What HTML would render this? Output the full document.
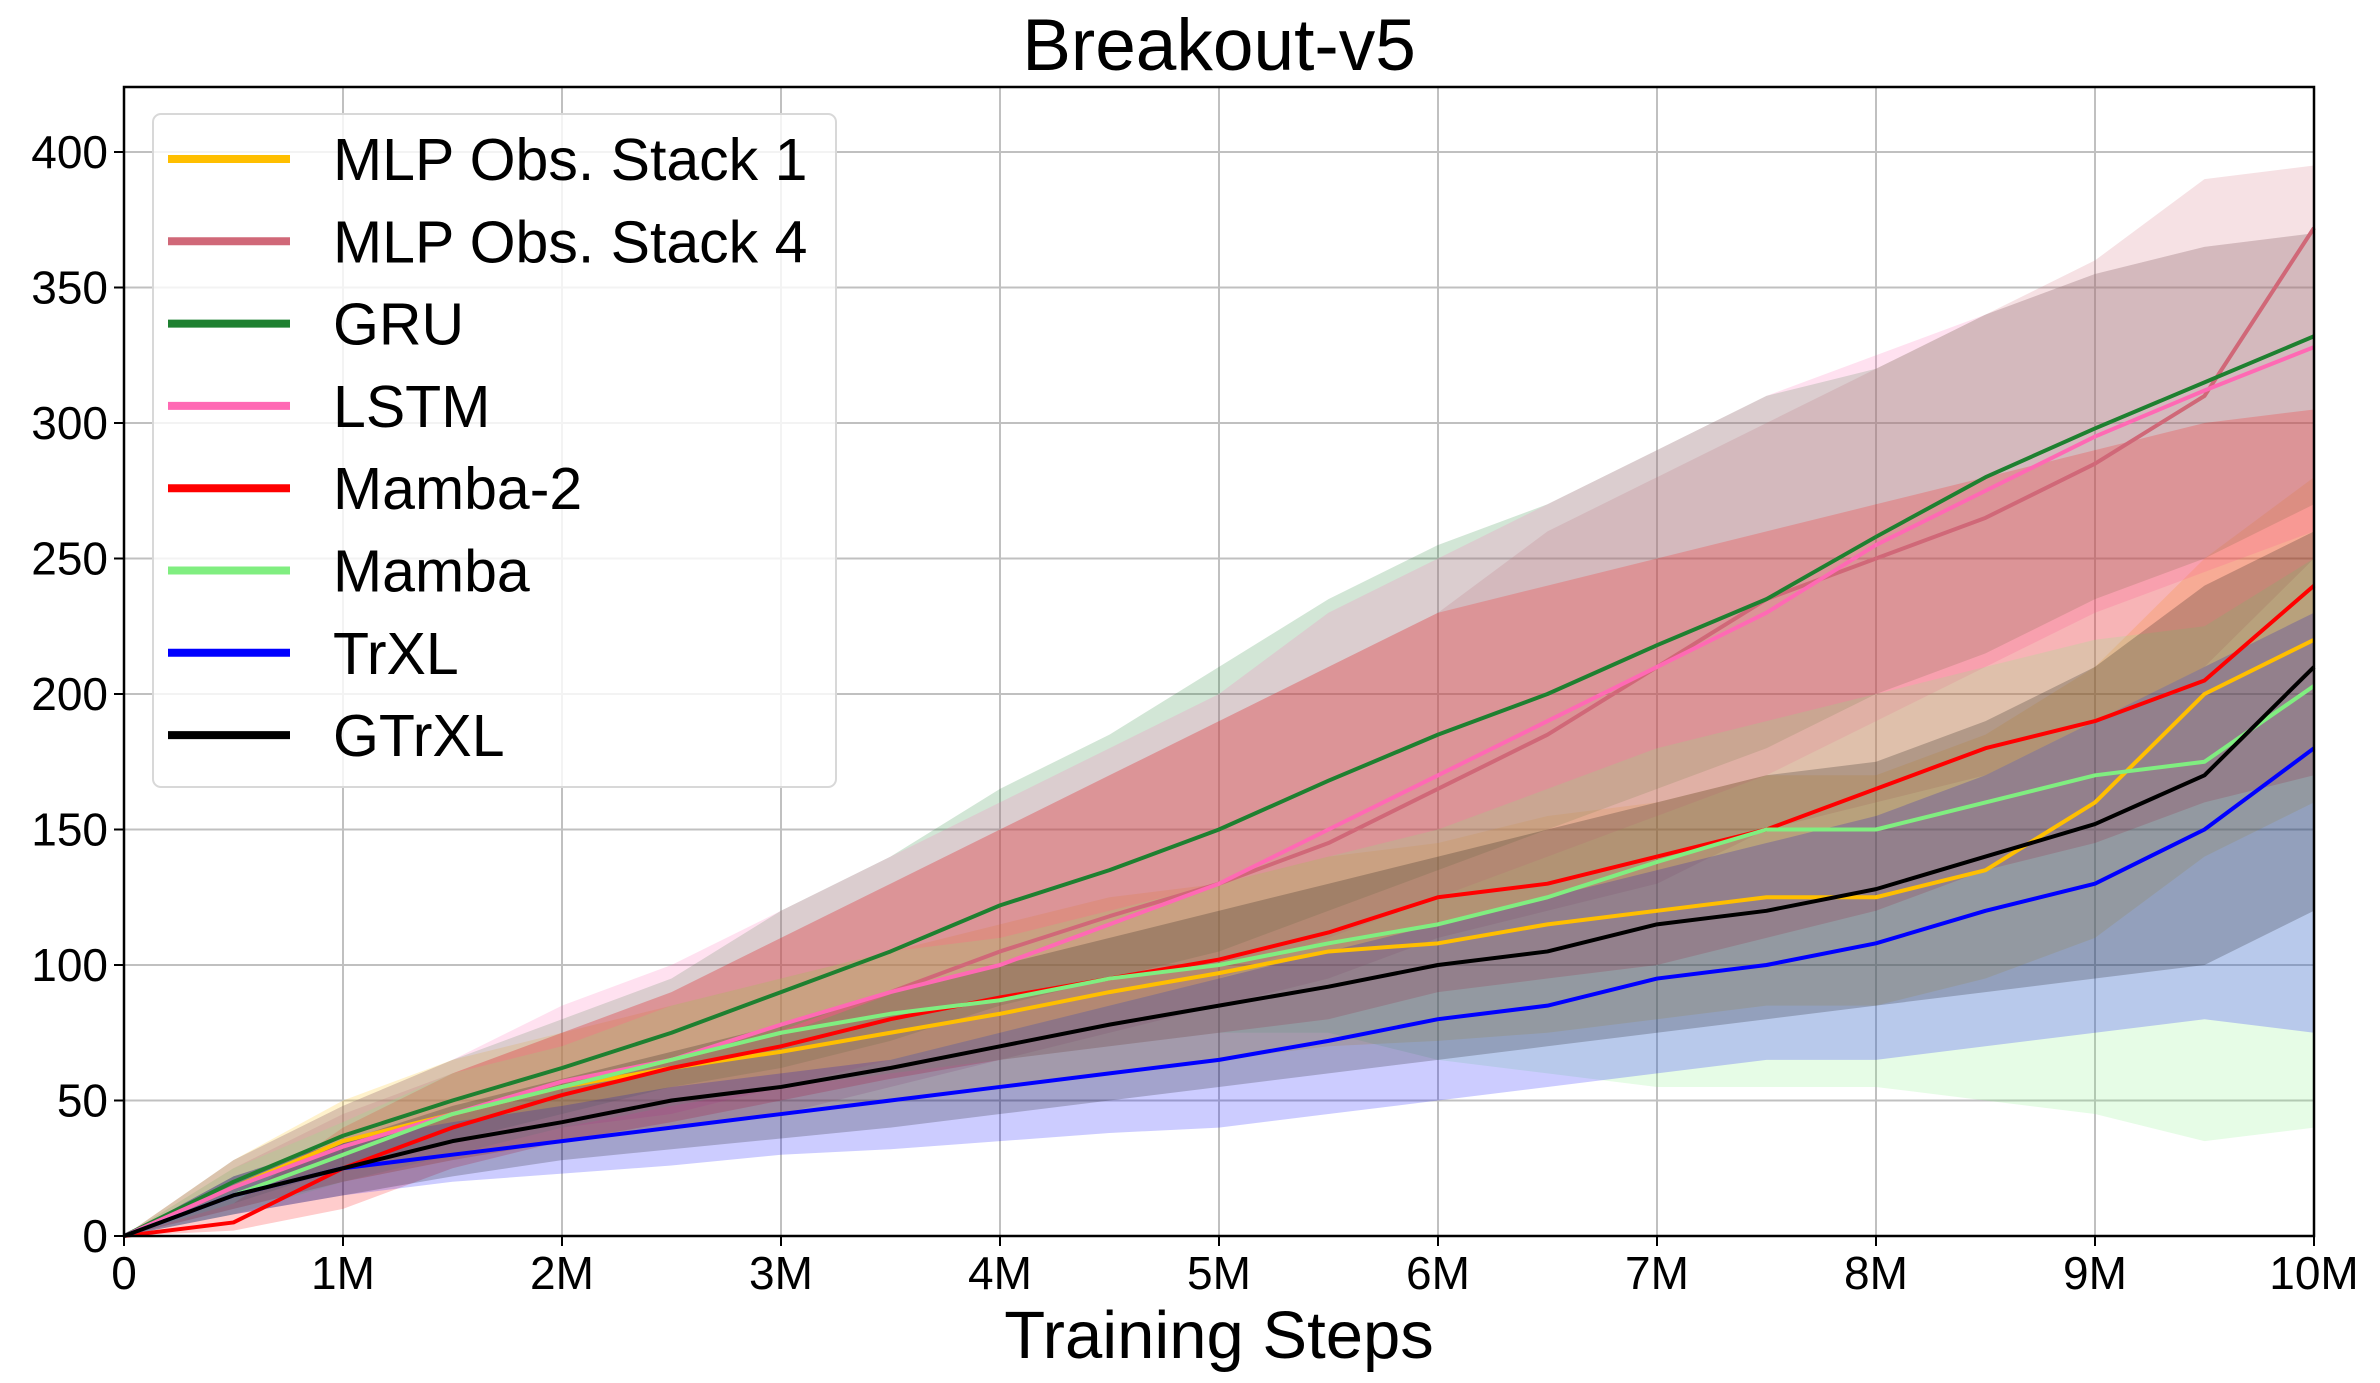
<!DOCTYPE html>
<html><head><meta charset="utf-8"><style>
body{margin:0;background:#fff}
svg{display:block;font-family:"Liberation Sans","DejaVu Sans",sans-serif}
</style></head><body>
<svg id="chart" width="2380" height="1383" viewBox="0 0 2380 1383" xmlns="http://www.w3.org/2000/svg">
<rect width="2380" height="1383" fill="#fff"/>
<g id="grid"></g>
<g id="bands"></g>
<g id="lines"></g>
<g id="axes"></g>
<text x="1219" y="70" font-size="73" text-anchor="middle">Breakout-v5</text>
<text x="1219" y="1358" font-size="67" text-anchor="middle">Training Steps</text>
<g id="legend"></g>
</svg>
<script>
const steps = [0,0.5,1,1.5,2,2.5,3,3.5,4,4.5,5,5.5,6,6.5,7,7.5,8,8.5,9,9.5,10];
const xTicks = [0,1,2,3,4,5,6,7,8,9,10];
const xTickLabels = ["0","1M","2M","3M","4M","5M","6M","7M","8M","9M","10M"];
const yTicks = [0,50,100,150,200,250,300,350,400];
const seriesNames = ["MLP Obs. Stack 1","MLP Obs. Stack 4","GRU","LSTM","Mamba-2","Mamba","TrXL","GTrXL"];
const seriesColors = ["#ffbf00","#d06878","#1e8030","#ff69b4","#ff0000","#80ee80","#0000ff","#000000"];
const meanMLP1 = [0,18,35,45,55,62,68,75,82,90,97,105,108,115,120,125,125,135,160,200,220];
const meanMLP4 = [0,18,33,45,55,65,75,90,105,118,130,145,165,185,210,235,250,265,285,310,372];
const meanGRU = [0,20,37,50,62,75,90,105,122,135,150,168,185,200,218,235,258,280,298,315,332];
const meanLSTM = [0,18,33,45,57,65,78,90,100,115,130,150,170,190,210,230,255,275,295,312,328];
const meanMamba2 = [0,5,25,40,52,62,70,80,88,95,102,112,125,130,140,150,165,180,190,205,240];
const meanMamba = [0,15,30,45,55,65,75,82,87,95,100,108,115,125,138,150,150,160,170,175,203];
const meanTrXL = [0,15,25,30,35,40,45,50,55,60,65,72,80,85,95,100,108,120,130,150,180];
const meanGTrXL = [0,15,25,35,42,50,55,62,70,78,85,92,100,105,115,120,128,140,152,170,210];
const loMLP1 = [0,10,20,28,35,40,45,50,55,60,65,70,72,75,80,85,85,95,110,140,160];
const hiMLP1 = [0,28,50,65,75,85,95,105,115,125,130,140,145,155,160,170,170,185,210,250,280];
const loMLP4 = [0,10,20,28,35,40,45,55,65,75,85,95,110,120,130,150,160,170,190,210,250];
const hiMLP4 = [0,25,45,60,75,90,110,130,150,170,190,210,230,260,280,300,320,340,360,390,395];
const loGRU = [0,12,25,35,45,55,62,72,85,95,105,120,135,150,165,180,200,215,235,250,270];
const hiGRU = [0,28,48,65,80,95,120,140,165,185,210,235,255,270,290,310,320,340,355,365,370];
const loLSTM = [0,10,20,30,40,45,55,65,75,85,95,110,125,140,155,170,190,210,230,245,260];
const hiLSTM = [0,28,48,65,85,100,120,140,160,180,200,230,250,270,290,310,325,340,355,365,370];
const loMamba2 = [0,2,10,25,35,42,50,58,65,70,75,80,90,95,100,110,120,135,145,160,170];
const hiMamba2 = [0,12,40,60,75,90,110,130,150,170,190,210,230,240,250,260,270,280,290,300,305];
const loMamba = [0,8,20,30,40,48,55,60,65,70,75,75,65,60,55,55,55,50,45,35,40];
const hiMamba = [0,25,42,60,70,85,95,105,110,120,130,140,150,165,180,190,200,210,220,225,250];
const loTrXL = [0,8,15,20,23,26,30,32,35,38,40,45,50,55,60,65,65,70,75,80,75];
const hiTrXL = [0,22,35,42,48,55,60,65,75,85,95,105,115,125,135,145,155,170,190,210,230];
const loGTrXL = [0,8,15,22,28,32,36,40,45,50,55,60,65,70,75,80,85,90,95,100,120];
const hiGTrXL = [0,22,35,48,58,68,78,90,100,110,120,130,140,150,160,170,175,190,210,240,260];

const means=[meanMLP1,meanMLP4,meanGRU,meanLSTM,meanMamba2,meanMamba,meanTrXL,meanGTrXL];
const los=[loMLP1,loMLP4,loGRU,loLSTM,loMamba2,loMamba,loTrXL,loGTrXL];
const his=[hiMLP1,hiMLP4,hiGRU,hiLSTM,hiMamba2,hiMamba,hiTrXL,hiGTrXL];
const X0=124,X1=2314,Y0=1236,YT=87;
const xs=v=>X0+(X1-X0)*v/10;
const ys=v=>Y0-(Y0-152)*v/400;
const NS="http://www.w3.org/2000/svg";
function mk(tag,parent,attrs){const e=document.createElementNS(NS,tag);for(const k in attrs)e.setAttribute(k,attrs[k]);parent.appendChild(e);return e;}
const grid=document.getElementById('grid'),axes=document.getElementById('axes'),bands=document.getElementById('bands'),lines=document.getElementById('lines'),legend=document.getElementById('legend');
xTicks.forEach((t,i)=>{
  const g=mk('line',grid,{x1:xs(t),x2:xs(t),y1:YT,y2:Y0,stroke:'#c0c0c0','stroke-width':2});
  
  
  mk('line',axes,{x1:xs(t),x2:xs(t),y1:Y0,y2:Y0+10,stroke:'#000','stroke-width':2});
  const l=mk('text',axes,{x:xs(t),y:Y0+53,'font-size':46,'text-anchor':'middle'});
  l.textContent=xTickLabels[i];
  
  
});
yTicks.forEach(t=>{
  const g=mk('line',grid,{x1:X0,x2:X1,y1:ys(t),y2:ys(t),stroke:'#c0c0c0','stroke-width':2});
  
  
  mk('line',axes,{x1:X0-10,x2:X0,y1:ys(t),y2:ys(t),stroke:'#000','stroke-width':2});
  const l=mk('text',axes,{x:X0-16,y:ys(t)+16,'font-size':46,'text-anchor':'end'});
  l.textContent=String(t);
  
  
});
const frame=mk('rect',axes,{x:X0,y:YT,width:X1-X0,height:Y0-YT,fill:'none',stroke:'#000','stroke-width':2.5});


seriesNames.forEach((n,s)=>{
  let d='M'+steps.map((v,i)=>xs(v)+','+ys(his[s][i])).join('L');
  for(let i=steps.length-1;i>=0;i--) d+='L'+xs(steps[i])+','+ys(los[s][i]);
  const b=mk('path',bands,{d:d+'Z',fill:seriesColors[s],'fill-opacity':0.2});
  
  
});
seriesNames.forEach((n,s)=>{
  const p=mk('polyline',lines,{points:steps.map((v,i)=>xs(v)+','+ys(means[s][i])).join(' '),fill:'none',stroke:seriesColors[s],'stroke-width':4,'stroke-linejoin':'round'});
  
  
});
const lb=mk('rect',legend,{x:153,y:114,width:683,height:673,rx:8,fill:'#fff','fill-opacity':0.8,stroke:'#d8d8d8','stroke-width':2});


seriesNames.forEach((n,s)=>{
  const y=159+s*82.3;
  const g=mk('g',legend,{});
  
  
  mk('line',g,{x1:168,x2:290,y1:y,y2:y,stroke:seriesColors[s],'stroke-width':8});
  const t=mk('text',g,{x:333,y:y+21,'font-size':59});
  t.textContent=n;
});
</script>
</body></html>
